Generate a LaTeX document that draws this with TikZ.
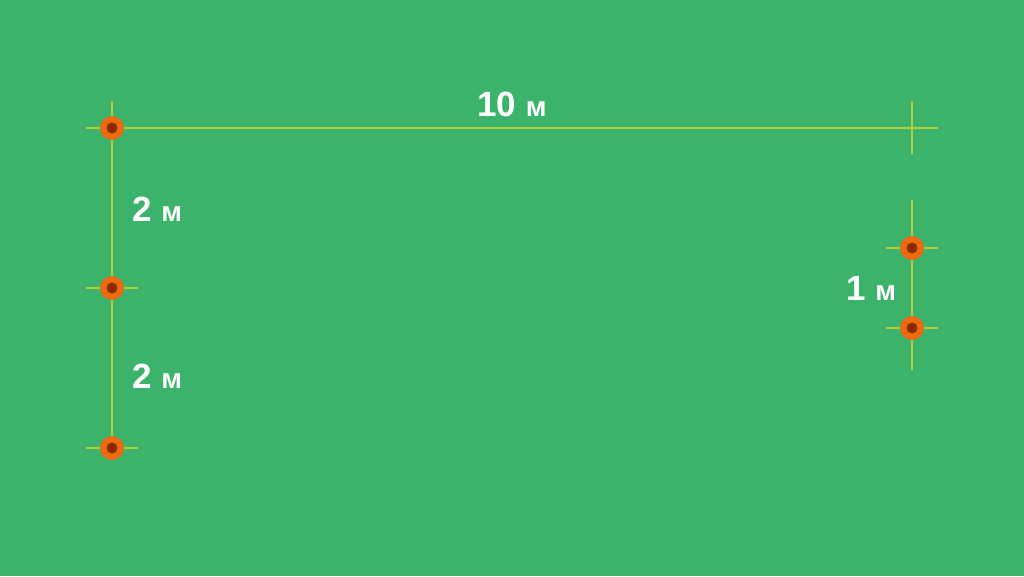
\documentclass[tikz,border=0pt]{standalone}
\usepackage{fontspec}
\setmainfont{Liberation Sans}
\definecolor{bg}{HTML}{3BB36B}
\definecolor{ln}{HTML}{B2CF3E}
\definecolor{org}{HTML}{EE6A12}
\definecolor{dk}{HTML}{8A2B06}
\begin{document}
\begin{tikzpicture}[x=1pt,y=-1pt,
  guide/.style={draw=ln,line width=1.3pt},
  pin/.style={circle,fill=org,minimum size=24pt,inner sep=0pt,path picture={\fill[dk] (path picture bounding box.center) circle (5.5pt);}},
  lbl/.style={text=white,font=\bfseries,inner sep=0pt}]
\fill[bg] (0,0) rectangle (1024,576);
\useasboundingbox (0,0) rectangle (1024,576);
% coordinates
\coordinate (hl) at (86,128);
\coordinate (hr) at (938,128);
\coordinate (lt) at (112,101);
\coordinate (rt) at (912,101);
\coordinate (rb) at (912,154);
\coordinate (r2t) at (912,200);
\coordinate (r2b) at (912,370);
\coordinate (m1l) at (86,288);
\coordinate (m1r) at (138,288);
\coordinate (b1l) at (86,448);
\coordinate (b1r) at (138,448);
\coordinate (q1l) at (886,248);
\coordinate (q1r) at (938,248);
\coordinate (q2l) at (886,328);
\coordinate (q2r) at (938,328);
% guides
\draw[guide] (hl) -- (hr);
\draw[guide] (lt) -- (112,448);
\draw[guide] (rt) -- (rb);
\draw[guide] (r2t) -- (r2b);
\draw[guide] (m1l) -- (m1r);
\draw[guide] (b1l) -- (b1r);
\draw[guide] (q1l) -- (q1r);
\draw[guide] (q2l) -- (q2r);
% pins
\node[pin] (p1) at (112,128) {};
\node[pin] (p2) at (112,288) {};
\node[pin] (p3) at (112,448) {};
\node[pin] (p4) at (912,248) {};
\node[pin] (p5) at (912,328) {};
% labels
\node[lbl,anchor=base] (t10) at (512,116) {\fontsize{35}{35}\selectfont 10 \fontsize{28}{28}\selectfont м};
\node[lbl,anchor=base west] (t2a) at (132,221) {\fontsize{35}{35}\selectfont 2 \fontsize{28}{28}\selectfont м};
\node[lbl,anchor=base west] (t2b) at (132,388) {\fontsize{35}{35}\selectfont 2 \fontsize{28}{28}\selectfont м};
\node[lbl,anchor=base west] (t1) at (846,300) {\fontsize{35}{35}\selectfont 1 \fontsize{28}{28}\selectfont м};
\end{tikzpicture}
\end{document}
